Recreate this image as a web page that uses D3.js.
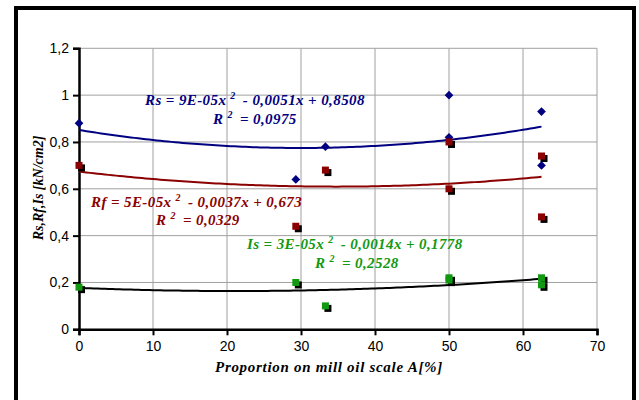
<!DOCTYPE html>
<html>
<head>
<meta charset="utf-8">
<script src="https://cdn.jsdelivr.net/npm/d3@7/dist/d3.min.js"></script>
<style>
  html, body { margin: 0; padding: 0; background: #fff; }
  svg { display: block; }
  .tick text { font-family: "Liberation Sans", Arial, sans-serif; font-size: 14px; fill: #000; }
  .lbl { font-family: "Liberation Serif", "Times New Roman", serif; font-weight: bold; font-style: italic; }
</style>
</head>
<body>
<svg id="chart" width="639" height="400"></svg>
<script>
// Measured strengths vs. proportion of mill oil scale
const rsX = [0, 29.3, 33.3, 50, 50, 62.5, 62.5];
const rsY = [0.88, 0.64, 0.78, 1.0, 0.82, 0.93, 0.70];
const rfX = [0, 29.3, 33.3, 50, 50, 62.5, 62.5];
const rfY = [0.70, 0.44, 0.68, 0.80, 0.60, 0.74, 0.48];
const isX = [0, 29.3, 33.3, 50, 50, 62.5, 62.5];
const isY = [0.18, 0.20, 0.10, 0.22, 0.21, 0.22, 0.19];

const xTicks = [0, 10, 20, 30, 40, 50, 60, 70];
const yTicks = [0, 0.2, 0.4, 0.6, 0.8, 1.0, 1.2];

// Trendline captions (equation and R²)
const rsEq = ["Rs = 9E-05x", "2", " - 0,0051x + 0,8508"];
const rsR2 = ["R", "2", " = 0,0975"];
const rfEq = ["Rf = 5E-05x", "2", " - 0,0037x + 0,673"];
const rfR2 = ["R", "2", " = 0,0329"];
const isEq = ["Is = 3E-05x", "2", " - 0,0014x + 0,1778"];
const isR2 = ["R", "2", " = 0,2528"];

const svg = d3.select("#chart");
const margin = { left: 79, right: 42, top: 48.3, bottom: 70.7 };
const W = 639, H = 400;

// outer frame
svg.append("rect")
  .attr("x", 16).attr("y", 8).attr("width", 618).attr("height", 400)
  .attr("fill", "none").attr("stroke", "#000").attr("stroke-width", 4);

const x = d3.scaleLinear().domain([0, 70]).range([margin.left, W - margin.right]);
const y = d3.scaleLinear().domain([0, 1.2]).range([H - margin.bottom, margin.top]);

const fmt = d => d3.format("~g")(d).replace(".", ",");

// grid
const grid = svg.append("g").attr("stroke", "#a0a0a0").attr("stroke-width", 1);
grid.selectAll("line.v").data(xTicks.slice(1)).join("line")
  .attr("x1", d => x(d)).attr("x2", d => x(d))
  .attr("y1", y(0)).attr("y2", y(1.2));
grid.selectAll("line.h").data(yTicks.slice(1)).join("line")
  .attr("y1", d => y(d)).attr("y2", d => y(d))
  .attr("x1", x(0)).attr("x2", x(70));

// axes
const xAxis = svg.append("g").attr("transform", `translate(0,${y(0)})`)
  .call(d3.axisBottom(x).tickValues(xTicks).tickFormat(fmt).tickSizeOuter(0).tickSize(6).tickPadding(6));
const yAxis = svg.append("g").attr("transform", `translate(${x(0)},0)`)
  .call(d3.axisLeft(y).tickValues(yTicks).tickFormat(fmt).tickSizeOuter(0).tickSize(6).tickPadding(4));
[xAxis, yAxis].forEach(a => {
  a.select(".domain").attr("stroke", "#000").attr("stroke-width", 2.5);
  a.selectAll(".tick line").attr("stroke", "#000").attr("stroke-width", 2);
});

// least-squares quadratic fit, as a spreadsheet trendline does
function quadFit(xs, ys) {
  const n = xs.length;
  let s = [0, 0, 0, 0, 0], t = [0, 0, 0];
  for (let i = 0; i < n; i++) {
    const xi = xs[i], yi = ys[i];
    for (let k = 0; k <= 4; k++) s[k] += Math.pow(xi, k);
    for (let k = 0; k <= 2; k++) t[k] += yi * Math.pow(xi, k);
  }
  const A = [[s[0], s[1], s[2], t[0]], [s[1], s[2], s[3], t[1]], [s[2], s[3], s[4], t[2]]];
  for (let i = 0; i < 3; i++) {
    for (let j = i + 1; j < 3; j++) {
      const f = A[j][i] / A[i][i];
      for (let k = i; k < 4; k++) A[j][k] -= f * A[i][k];
    }
  }
  const c = [0, 0, 0];
  for (let i = 2; i >= 0; i--) {
    let v = A[i][3];
    for (let k = i + 1; k < 3; k++) v -= A[i][k] * c[k];
    c[i] = v / A[i][i];
  }
  return xv => c[0] + c[1] * xv + c[2] * xv * xv;
}

const line = d3.line().x(d => x(d[0])).y(d => y(d[1]));
function trend(xs, ys, color) {
  const f = quadFit(xs, ys);
  const pts = d3.range(0, 62.5 + 1e-9, 0.5).map(v => [v, f(v)]);
  svg.append("path").datum(pts).attr("d", line)
    .attr("fill", "none").attr("stroke", color).attr("stroke-width", 2);
}
trend(rsX, rsY, "#000080");
trend(rfX, rfY, "#8b0000");
trend(isX, isY, "#000000");

// markers
const diamond = d3.symbol().type(d3.symbolSquare).size(38);
svg.append("g").selectAll("path").data(rsX.map((v, i) => [v, rsY[i]])).join("path")
  .attr("d", diamond).attr("transform", d => `translate(${x(d[0])},${y(d[1])}) rotate(45)`)
  .attr("fill", "#000080");

function squares(xs, ys, color) {
  const data = xs.map((v, i) => [v, ys[i]]);
  const g = svg.append("g");
  const s = 7;
  g.selectAll("rect.sh").data(data).join("rect")
    .attr("x", d => x(d[0]) - s / 2 + 2.5).attr("y", d => y(d[1]) - s / 2 + 2.5)
    .attr("width", s).attr("height", s).attr("fill", "#000");
  g.selectAll("rect.mk").data(data).join("rect")
    .attr("x", d => x(d[0]) - s / 2).attr("y", d => y(d[1]) - s / 2)
    .attr("width", s).attr("height", s).attr("fill", color);
}
squares(rfX, rfY, "#8b0000");
squares(isX, isY, "#119911");

// equation captions
function caption(parts, px, py, color) {
  const t = svg.append("text").attr("class", "lbl").attr("x", px).attr("y", py)
    .attr("fill", color).style("font-size", "15px").style("letter-spacing", "0.4px");
  t.append("tspan").text(parts[0]);
  t.append("tspan").attr("dx", 4).attr("dy", -6).style("font-size", "10px").text(parts[1]);
  t.append("tspan").attr("dx", 3).attr("dy", 6).text(parts[2]);
}
caption(rsEq, 145, 105, "#000080");
caption(rsR2, 213, 124, "#000080");
caption(rfEq, 91, 207, "#8b0000");
caption(rfR2, 156, 225, "#8b0000");
caption(isEq, 247, 249, "#119911");
caption(isR2, 315, 268, "#119911");

// axis titles
svg.append("text").attr("class", "lbl")
  .attr("x", 329).attr("y", 372).attr("text-anchor", "middle")
  .style("font-size", "15px").style("letter-spacing", "0.7px")
  .text("Proportion on mill oil scale A[%]");
svg.append("text").attr("class", "lbl")
  .attr("transform", `translate(43,188) rotate(-90)`).attr("text-anchor", "middle")
  .style("font-size", "14px").text("Rs,Rf,Is [kN/cm2]");
</script>
</body>
</html>
